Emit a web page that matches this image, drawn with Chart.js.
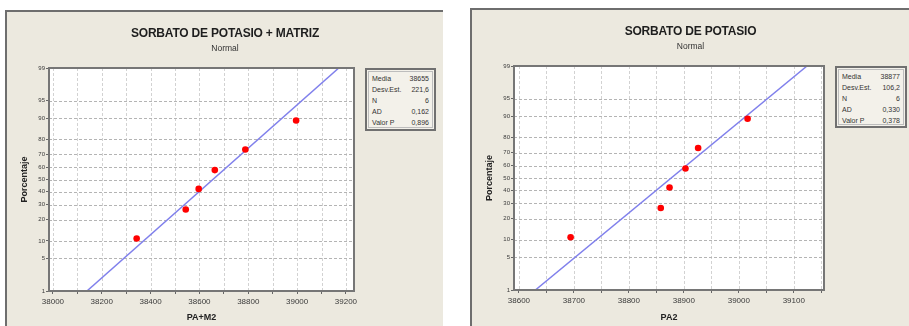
<!DOCTYPE html>
<html>
<head>
<meta charset="utf-8">
<script src="https://cdn.jsdelivr.net/npm/chart.js@4"></script>
<style>
  body { margin: 0; background: #fff; width: 909px; height: 326px; overflow: hidden; position: relative; font-family: "Liberation Sans", Arial, sans-serif; }
  .panel { position: absolute; background: #ece9df; border-top: 2px solid #6e6e6e; border-left: 2px solid #6e6e6e; box-sizing: border-box; }
  .panel canvas { position: absolute; left: 0; top: 0; }
  .title { position: absolute; left: 0; width: 100%; text-align: center; font-weight: bold; font-size: 12px; color: #1e1e1e; top: 14px; letter-spacing: -0.2px; }
  .sub { position: absolute; left: 0; width: 100%; text-align: center; font-size: 8.5px; color: #333; top: 31px; }
  .stats { position: absolute; top: 56px; border: 2px solid #707070; outline: 1px solid #bdbdbd; outline-offset: -4px; background: #f3f1ea; font-size: 7px; color: #333; padding: 3px 5px; box-sizing: border-box; }
  .stats div { display: flex; justify-content: space-between; height: 11px; line-height: 11px; }
</style>
</head>
<body>

<div class="panel" id="p1" style="left:5px;top:10px;width:438px;height:316px;">
  <canvas id="c1" width="436" height="314"></canvas>
  <div class="title">SORBATO DE POTASIO + MATRIZ</div>
  <div class="sub">Normal</div>
  <div class="stats" id="s1" style="left:358px;width:71px;height:63px;"></div>
</div>

<div class="panel" id="p2" style="left:470px;top:8px;width:439px;height:318px;">
  <canvas id="c2" width="437" height="316"></canvas>
  <div class="title">SORBATO DE POTASIO</div>
  <div class="sub">Normal</div>
  <div class="stats" id="s2" style="left:363px;width:72px;height:62px;"></div>
</div>

<script>
// percentiles (median ranks) for N = 6
const percentiles = [10.9, 26.6, 42.2, 57.8, 73.4, 89.1];
const yTicks = [1, 5, 10, 20, 30, 40, 50, 60, 70, 80, 90, 95, 99];

// left: PA+M2
const valuesM2 = [38343, 38544, 38597, 38663, 38788, 38996];
const statLabels = ['Media', 'Desv.Est.', 'N', 'AD', 'Valor P'];
const statsM2 = ['38655', '221,6', '6', '0,162', '0,896'];
const mediaM2 = 38655, desvM2 = 221.6;

// right: PA2
const valuesPA2 = [38694, 38858, 38874, 38903, 38926, 39016];
const statsPA2 = ['38877', '106,2', '6', '0,330', '0,378'];
const mediaPA2 = 38877, desvPA2 = 106.2;

// inverse normal cdf (Abramowitz & Stegun 26.2.23)
function probit(p) {
  if (p === 0.5) return 0;
  const q = p < 0.5 ? p : 1 - p;
  const t = Math.sqrt(-2 * Math.log(q));
  const z = t - (2.515517 + 0.802853 * t + 0.010328 * t * t) /
                (1 + 1.432788 * t + 0.189269 * t * t + 0.001308 * t * t * t);
  return p < 0.5 ? -z : z;
}

// normal probability axis
class ProbitScale extends Chart.LinearScale {
  determineDataLimits() {
    this.min = this.options.min;
    this.max = this.options.max;
  }
  buildTicks() {
    return yTicks.map(v => ({ value: v }));
  }
  configure() {
    super.configure();
    this._z0 = probit(this.min / 100);
    this._z1 = probit(this.max / 100);
  }
  getPixelForValue(v) {
    return this.getPixelForDecimal((probit(v / 100) - this._z0) / (this._z1 - this._z0));
  }
}
ProbitScale.id = 'probit';
Chart.register(ProbitScale);

// white plot area, dashed grid, grey frame
const framePlugin = {
  id: 'frame',
  beforeDraw(chart) {
    const a = chart.chartArea, ctx = chart.ctx;
    ctx.save();
    ctx.fillStyle = '#ffffff';
    ctx.fillRect(a.left, a.top, a.right - a.left, a.bottom - a.top);
    ctx.restore();
  },
  beforeDatasetsDraw(chart) {
    const a = chart.chartArea, ctx = chart.ctx;
    const xs = chart.scales.x, ys = chart.scales.y;
    ctx.save();
    ctx.lineWidth = 1;
    ctx.setLineDash([3, 2]);
    ctx.strokeStyle = '#d2d2d2';
    xs.ticks.forEach(t => {
      const px = Math.round(xs.getPixelForValue(t.value)) + 0.5;
      ctx.beginPath(); ctx.moveTo(px, a.top); ctx.lineTo(px, a.bottom); ctx.stroke();
    });
    ctx.strokeStyle = '#b4b4b4';
    ys.ticks.forEach(t => {
      const py = Math.round(ys.getPixelForValue(t.value)) + 0.5;
      ctx.beginPath(); ctx.moveTo(a.left, py); ctx.lineTo(a.right, py); ctx.stroke();
    });
    ctx.restore();
  },
  afterDraw(chart) {
    const a = chart.chartArea, ctx = chart.ctx;
    ctx.save();
    ctx.strokeStyle = '#767676';
    ctx.lineWidth = 2;
    ctx.strokeRect(a.left, a.top, a.right - a.left, a.bottom - a.top);
    ctx.restore();
  }
};

function fillStats(id, vals) {
  document.getElementById(id).innerHTML = statLabels
    .map((l, i) => '<div><span>' + l + '</span><span>' + vals[i] + '</span></div>').join('');
}
fillStats('s1', statsM2);
fillStats('s2', statsPA2);

Chart.defaults.font.family = '"Liberation Sans", Arial, sans-serif';
Chart.defaults.color = '#3a3a3a';

function makeChart(canvasId, values, media, desv, xMin, xMax, step, labelStep, xTitle, padRight, xHeight) {
  const fitLine = [1, 99].map(p => ({ x: media + desv * probit(p / 100), y: p }));
  return new Chart(document.getElementById(canvasId), {
    type: 'scatter',
    data: {
      datasets: [
        {
          data: fitLine,
          showLine: true,
          borderColor: '#8080ec',
          borderWidth: 1.5,
          pointRadius: 0,
          order: 2
        },
        {
          data: values.map((v, i) => ({ x: v, y: percentiles[i] })),
          pointRadius: 3.3,
          backgroundColor: '#ff0000',
          borderWidth: 0,
          order: 1
        }
      ]
    },
    options: {
      responsive: false,
      animation: false,
      devicePixelRatio: 1,
      layout: { padding: { top: 56, right: padRight, left: 0, bottom: 0 } },
      plugins: { legend: { display: false }, tooltip: { enabled: false } },
      scales: {
        x: {
          type: 'linear',
          min: xMin,
          max: xMax,
          afterFit: s => { s.height = xHeight; },
          ticks: {
            stepSize: step,
            includeBounds: false,
            autoSkip: false,
            maxRotation: 0,
            padding: 3,
            font: { size: 8 },
            callback: v => (v % labelStep === 0 ? String(v) : '')
          },
          grid: { drawOnChartArea: false, tickColor: '#666', tickLength: 3 },
          border: { display: false },
          title: { display: true, text: xTitle, font: { size: 9, weight: 'bold' }, color: '#222', padding: { top: 0, bottom: 3 } }
        },
        y: {
          type: 'probit',
          min: 1,
          max: 99,
          afterFit: s => { s.width = 42; },
          ticks: { font: { size: 6 }, padding: 1, autoSkip: false, callback: v => String(v) },
          grid: { drawOnChartArea: false, tickColor: '#666', tickLength: 3 },
          border: { display: false },
          title: { display: true, text: 'Porcentaje', font: { size: 9, weight: 'bold' }, color: '#222', padding: { top: 12, bottom: 0 } }
        }
      }
    },
    plugins: [framePlugin]
  });
}

makeChart('c1', valuesM2, mediaM2, desvM2, 37984, 39233, 100, 200, 'PA+M2', 89, 35);
makeChart('c2', valuesPA2, mediaPA2, desvPA2, 38591, 39155, 50, 100, 'PA2', 85, 36);
</script>
</body>
</html>
